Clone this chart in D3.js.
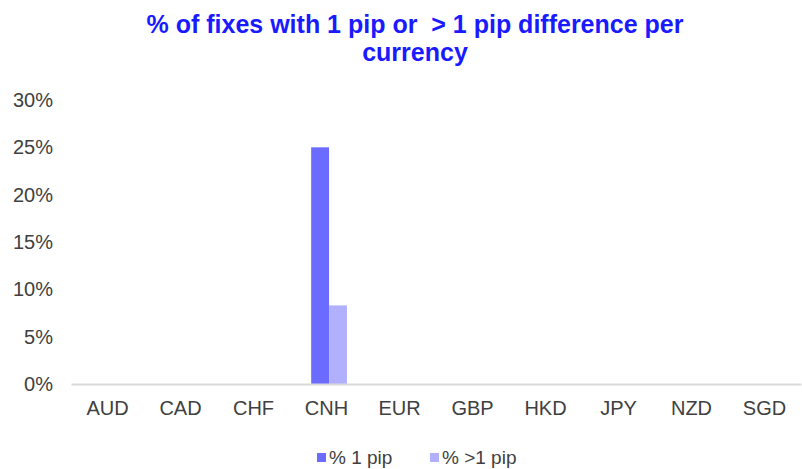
<!DOCTYPE html>
<html lang="en">
<head>
<meta charset="UTF-8">
<title>% of fixes with 1 pip difference</title>
<script src="https://cdn.jsdelivr.net/npm/d3@7"></script>
<style>
  body { margin: 0; background: #fff; font-family: "Liberation Sans", Arial, sans-serif; }
  .title { fill: #1a1aff; font-weight: bold; font-size: 25px; text-anchor: middle; }
  .axis text { fill: #404040; font-size: 20px; font-family: "Liberation Sans", Arial, sans-serif; }
  .legend text { fill: #404040; font-size: 19px; }
</style>
</head>
<body>
<script>
// data
var currencies = ["AUD", "CAD", "CHF", "CNH", "EUR", "GBP", "HKD", "JPY", "NZD", "SGD"];
var onePip = [0, 0, 0, 25, 0, 0, 0, 0, 0, 0];
var morePip = [0, 0, 0, 8.3, 0, 0, 0, 0, 0, 0];
var seriesNames = ["% 1 pip", "% >1 pip"];
var seriesColors = ["#6b6bff", "#b0b0ff"];
var yTicks = [0, 5, 10, 15, 20, 25, 30];

var width = 802, height = 469;
var margin = {left: 71, right: 1, top: 100, bottom: 85};

var svg = d3.select("body").append("svg")
  .attr("width", width)
  .attr("height", height);

// title
svg.append("text").attr("class", "title")
  .attr("x", 415).attr("y", 33)
  .text("% of fixes with 1 pip or  > 1 pip difference per")
  .style("white-space", "pre");
svg.append("text").attr("class", "title")
  .attr("x", 415).attr("y", 61)
  .text("currency");

var x = d3.scaleBand()
  .domain(currencies)
  .range([margin.left, width - margin.right]);

var x1 = d3.scaleBand()
  .domain([0, 1])
  .range([x.bandwidth() * 0.29, x.bandwidth() * 0.78]);

var y = d3.scaleLinear()
  .domain([0, 30])
  .range([height - margin.bottom, margin.top]);

// y axis labels only
var yAxis = svg.append("g").attr("class", "axis")
  .attr("transform", "translate(" + (margin.left - 18) + ",0)")
  .call(d3.axisLeft(y).tickValues(yTicks).tickSize(0).tickPadding(0)
    .tickFormat(function(d) { return d + "%"; }));
yAxis.select(".domain").remove();

// bars
var series = [onePip, morePip];
series.forEach(function(vals, si) {
  svg.append("g")
    .selectAll("rect")
    .data(currencies)
    .enter().append("rect")
    .attr("x", function(d) { return x(d) + x1(si); })
    .attr("width", x1.bandwidth())
    .attr("y", function(d, i) { return y(vals[i]); })
    .attr("height", function(d, i) { return y(0) - y(vals[i]); })
    .attr("fill", seriesColors[si]);
});

// x axis
var xAxis = svg.append("g").attr("class", "axis")
  .attr("transform", "translate(0," + y(0) + ")")
  .call(d3.axisBottom(x).tickSize(0).tickPadding(17));
xAxis.select(".domain").attr("stroke", "#d9d9d9").attr("stroke-width", 2);

// legend
var legend = svg.append("g").attr("class", "legend");
var lx = [317, 430];
seriesNames.forEach(function(name, i) {
  legend.append("rect")
    .attr("x", lx[i]).attr("y", 453)
    .attr("width", 9).attr("height", 9)
    .attr("fill", seriesColors[i]);
  legend.append("text")
    .attr("x", lx[i] + 12).attr("y", 464)
    .text(name);
});
</script>
</body>
</html>
